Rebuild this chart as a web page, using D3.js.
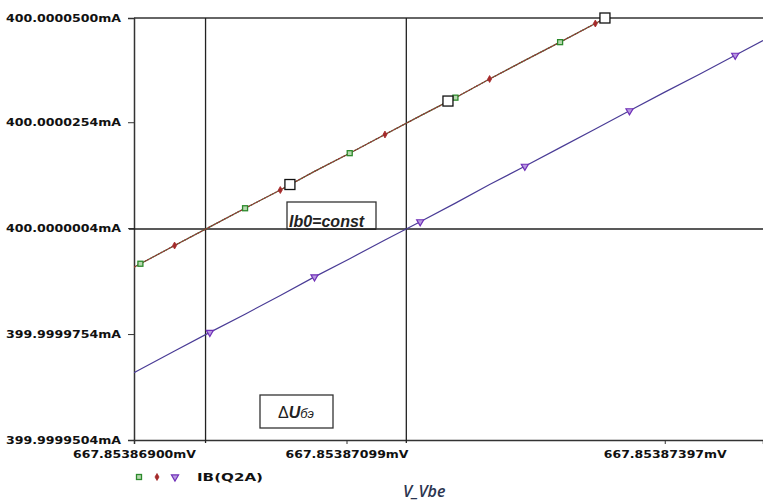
<!DOCTYPE html>
<html>
<head>
<meta charset="utf-8">
<script src="https://cdn.jsdelivr.net/npm/d3@7"></script>
<style>
  body { margin: 0; background: #fff; }
  svg { display: block; }
</style>
</head>
<body>
<svg width="763" height="502"></svg>
<script>
(function () {
    'use strict';

    // sweep V_Vbe, mV
    const vbe = [667.85386900, 667.85386906, 667.85386938, 667.85386971, 667.85387004,
        667.85387037, 667.85387069, 667.85387102, 667.85387135, 667.85387168,
        667.85387201, 667.85387233, 667.85387266, 667.85387299, 667.85387332,
        667.85387364, 667.85387397, 667.85387430, 667.85387463, 667.85387489];

    // IB(Q2A), mA, three runs (run 1 and 2 lie on top of each other)
    const ibRun1 = [399.9999912, 399.9999920, 399.9999963, 400.0000007, 400.0000051,
        400.0000094, 400.0000138, 400.0000181, 400.0000225, 400.0000269,
        400.0000312, 400.0000356, 400.0000400, 400.0000443, 400.0000487,
        400.0000530, 400.0000574, 400.0000618, 400.0000661, 400.0000696];
    const ibRun2 = ibRun1.slice();
    const ibRun3 = [399.9999663, 399.9999671, 399.9999714, 399.9999758, 399.9999801,
        399.9999845, 399.9999889, 399.9999932, 399.9999976, 400.0000019,
        400.0000063, 400.0000107, 400.0000150, 400.0000194, 400.0000238,
        400.0000281, 400.0000325, 400.0000368, 400.0000412, 400.0000447];

    // which samples carry a marker
    const markRun1 = [1, 4, 7, 10, 13];
    const markRun2 = [2, 5, 8, 11, 14];
    const markRun3 = [3, 6, 9, 12, 15, 18];

    const xTicks = [667.85386900, 667.85387099, 667.85387397];
    const yTicks = [399.9999504, 399.9999754, 400.0000004, 400.0000254, 400.0000500];

    const cursorX = [667.85386967, 667.85387155];
    const cursorY = 400.0000002;
    const cursorPts = [[667.85387046, 400.0000107], [667.85387194, 400.0000304], [667.85387341, 400.0000500]];

    const traceName = "IB(Q2A)";
    const xTitle = "V_Vbe";

    const L = 134, R = 763, T = 18, B = 440;

    const svg = d3.select("svg");

    const x = d3.scaleLinear().domain([667.85386900, 667.85387489]).range([L, R]);
    const y = d3.scaleLinear().domain([399.9999504, 400.0000500]).range([B, T]);

    svg.append("clipPath").attr("id", "plot")
        .append("rect").attr("x", L).attr("y", T).attr("width", R - L).attr("height", B - T);

    const font = "'DejaVu Sans', sans-serif";

    // y axis
    const yAxis = svg.append("g")
        .attr("transform", `translate(${L},0)`)
        .call(d3.axisLeft(y).tickValues(yTicks).tickSize(6).tickPadding(7)
            .tickFormat(d => d.toFixed(7) + "mA"));
    yAxis.select(".domain").attr("stroke", "#333").attr("stroke-width", 1.5);
    yAxis.selectAll(".tick line").attr("stroke", "#333");
    yAxis.selectAll(".tick text")
        .attr("font-family", font).attr("font-weight", "bold").attr("font-size", 11)
        .attr("fill", "#111").attr("textLength", 115).attr("lengthAdjust", "spacingAndGlyphs");

    // x axis
    const xAxis = svg.append("g")
        .attr("transform", `translate(0,${B})`)
        .call(d3.axisBottom(x).tickValues(xTicks).tickSize(4).tickPadding(6)
            .tickFormat(d => d.toFixed(8) + "mV"));
    xAxis.select(".domain").attr("stroke", "#333").attr("stroke-width", 1.5);
    xAxis.selectAll(".tick line").attr("stroke", "#333");
    xAxis.selectAll(".tick text")
        .attr("font-family", font).attr("font-weight", "bold").attr("font-size", 11)
        .attr("fill", "#111").attr("textLength", 123).attr("lengthAdjust", "spacingAndGlyphs");

    // top frame line
    svg.append("line").attr("x1", x.range()[0]).attr("x2", x.range()[1])
        .attr("y1", y(y.domain()[1])).attr("y2", y(y.domain()[1]))
        .attr("stroke", "#333").attr("stroke-width", 1.5);

    // cursors
    cursorX.forEach(function (cx) {
        svg.append("line").attr("x1", x(cx)).attr("x2", x(cx))
            .attr("y1", T).attr("y2", B + 3)
            .attr("stroke", "#222").attr("stroke-width", 1.3);
    });
    svg.append("line").attr("x1", L - 5).attr("x2", R)
        .attr("y1", y(cursorY)).attr("y2", y(cursorY))
        .attr("stroke", "#222").attr("stroke-width", 1.3);

    const plot = svg.append("g").attr("clip-path", "url(#plot)");

    const line = d3.line().x(d => x(d[0])).y(d => y(d[1]));
    const pts = arr => vbe.map((v, i) => [v, arr[i]]);

    plot.append("path").datum(pts(ibRun1)).attr("d", line)
        .attr("fill", "none").attr("stroke", "#4f6a3a").attr("stroke-width", 1.2);
    plot.append("path").datum(pts(ibRun2)).attr("d", line)
        .attr("fill", "none").attr("stroke", "#9a3030").attr("stroke-width", 1.2)
        .attr("stroke-dasharray", "2,1");
    plot.append("path").datum(pts(ibRun3)).attr("d", line)
        .attr("fill", "none").attr("stroke", "#4a3c96").attr("stroke-width", 1.2);

    const greenC = "#2c8a2c", redC = "#a42a2a", blueC = "#7030b8";

    function square(g, cx, cy) {
        g.append("rect").attr("x", cx - 2.5).attr("y", cy - 2.5).attr("width", 5).attr("height", 5)
            .attr("fill", "#b8d8b0").attr("stroke", greenC).attr("stroke-width", 1.3);
    }
    function diamond(g, cx, cy) {
        g.append("path").attr("d", d3.symbol(d3.symbolDiamond, 14)())
            .attr("transform", `translate(${cx},${cy})`)
            .attr("fill", redC).attr("stroke", redC).attr("stroke-width", 0.8);
    }
    function triangle(g, cx, cy) {
        g.append("path").attr("d", d3.symbol(d3.symbolTriangle, 22)())
            .attr("transform", `translate(${cx},${cy}) rotate(180)`)
            .attr("fill", "#b89ae0").attr("stroke", blueC).attr("stroke-width", 1.2);
    }

    markRun1.forEach(i => square(plot, x(vbe[i]), y(ibRun1[i])));
    markRun2.forEach(i => diamond(plot, x(vbe[i]), y(ibRun2[i])));
    markRun3.forEach(i => triangle(plot, x(vbe[i]), y(ibRun3[i])));

    // cursor points
    svg.selectAll(".cur").data(cursorPts).enter().append("rect")
        .attr("x", d => x(d[0]) - 5).attr("y", d => y(d[1]) - 5)
        .attr("width", 10).attr("height", 10)
        .attr("fill", "#fff").attr("stroke", "#111").attr("stroke-width", 1.3);

    // annotation boxes
    svg.append("rect").attr("x", 287).attr("y", 202).attr("width", 89).attr("height", y(cursorY) - 202)
        .attr("fill", "#fff").attr("stroke", "#333").attr("stroke-width", 1.3);
    svg.append("text").attr("x", 289).attr("y", 227)
        .attr("font-family", "'Liberation Sans', Arial, sans-serif").attr("font-size", 16)
        .attr("font-weight", "bold").attr("font-style", "italic").attr("fill", "#222")
        .text("Ib0=const");
    svg.append("line").attr("x1", 287).attr("x2", 376)
        .attr("y1", y(cursorY)).attr("y2", y(cursorY))
        .attr("stroke", "#222").attr("stroke-width", 1.3);

    svg.append("rect").attr("x", 260).attr("y", 395).attr("width", 73).attr("height", 33)
        .attr("fill", "#fff").attr("stroke", "#333").attr("stroke-width", 1.3);
    const du = svg.append("text").attr("x", 296).attr("y", 418).attr("text-anchor", "middle")
        .attr("font-family", "'Liberation Sans', Arial, sans-serif").attr("font-size", 16).attr("fill", "#222");
    du.append("tspan").text("\u0394");
    du.append("tspan").attr("font-weight", "bold").attr("font-style", "italic").text("U");
    du.append("tspan").attr("font-style", "italic").attr("font-size", 13).text("бэ");

    // legend
    square(svg, 139, 477);
    diamond(svg, 157, 477);
    triangle(svg, 175, 477);
    svg.append("text").attr("x", 197).attr("y", 481)
        .attr("font-family", font).attr("font-weight", "bold").attr("font-size", 11)
        .attr("fill", "#111").attr("textLength", 66).attr("lengthAdjust", "spacingAndGlyphs")
        .text(traceName);

    // x title
    const xt = svg.append("text").attr("x", 403).attr("y", 497)
        .attr("font-family", "'Open Sans', 'Liberation Sans', sans-serif").attr("font-size", 16)
        .attr("font-style", "italic").attr("font-weight", 600).attr("fill", "#2b3550");
    xt.text(xTitle);
})();
</script>
</body>
</html>
